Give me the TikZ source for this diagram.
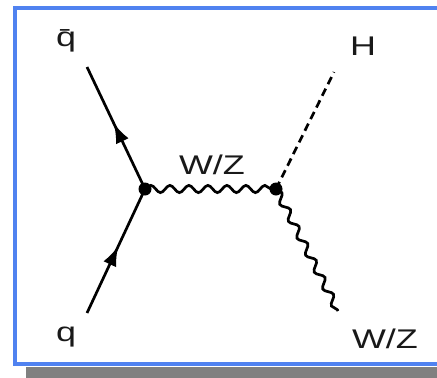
\documentclass[tikz,border=0pt]{standalone}
\usepackage{fontspec}
\setmainfont{Liberation Sans}
\usetikzlibrary{arrows.meta,decorations.pathmorphing,decorations.markings,positioning}

\newcommand{\wide}[1]{\scalebox{1.33}[1]{#1}}

\begin{document}
\begin{tikzpicture}[x=1pt, y=-1pt, >=latex]
    \tikzstyle{frame}    = [draw={rgb,255:red,80;green,130;blue,240}, line width=3.4pt]
    \tikzstyle{shadow}   = [fill={rgb,255:red,128;green,128;blue,128}, draw=none]
    \tikzstyle{label}    = [font=\fontsize{27}{30}\selectfont, inner sep=0pt, text=black!90]
    \tikzstyle{fermion}  = [line width=2.7pt, postaction={decorate}, decoration={markings, mark=at position 0.54 with {\arrow{Latex[length=20pt,width=14pt]}}}]
    \tikzstyle{boson}    = [line width=2.7pt, decorate, decoration={snake, amplitude=3.6pt, segment length=19pt}]
    \tikzstyle{scalar}   = [line width=2.7pt, dash pattern=on 8pt off 5pt]
    \tikzstyle{vertex}   = [circle, fill=black, inner sep=0pt, minimum size=13pt]

    \useasboundingbox (0,0) rectangle (437,378);
    \clip (0,0) rectangle (437,378);

    % box and its shadow
    \fill [shadow] (26,367) rectangle (450,380);
    \fill [white] (15,8) rectangle (450,364);
    \draw [frame] (15,8) rectangle (450,364);

    % vertices and external ends
    \node [vertex] (v1) at (145,189) {};
    \node [vertex] (v2) at (276,189) {};
    \coordinate (qbarend) at (87,67);
    \coordinate (qend)    at (87,313);
    \coordinate (hend)    at (334,72);
    \coordinate (wzend)   at (338,311);

    % labels
    \node [label] (qbar) at (66,41)  {\wide{\={q}}};
    \node [label] (q)    at (66,337) {\wide{q}};
    \node [label] (h)    at (363,46) {\wide{H}};
    \node [label] (wz1)  at (212,165) {\wide{W/Z}};
    \node [label] (wz2)  at (385,339) {\wide{W/Z}};

    % propagators
    \draw [fermion] (qend) -- (v1.center);
    \draw [fermion] (v1.center) -- (qbarend);
    \draw [boson] (v1.center) -- (v2.center);
    \draw [scalar] (v2.center) -- (hend);
    \draw [boson] (v2.center) -- (wzend);
\end{tikzpicture}
\end{document}
